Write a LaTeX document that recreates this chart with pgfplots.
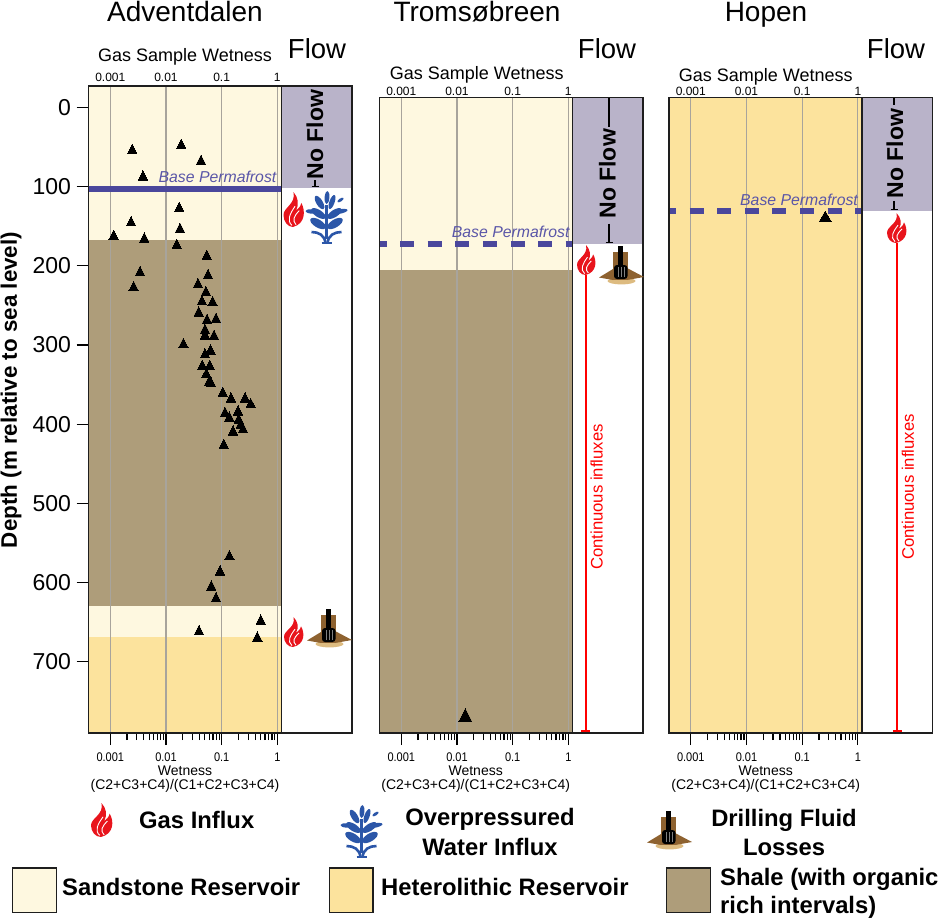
\documentclass[border=0pt]{standalone}
\usepackage{pgfplots}
\pgfplotsset{compat=1.18}
\usepackage{fontspec}
\setmainfont{Liberation Sans}
\definecolor{sand}{HTML}{FEF8E0}
\definecolor{hetero}{HTML}{FCE39D}
\definecolor{shale}{HTML}{AE9D7A}
\definecolor{noflow}{HTML}{B9B3C9}
\definecolor{pfline}{HTML}{4A479C}
\definecolor{pftext}{HTML}{5A56A8}
\definecolor{gridg}{HTML}{A8A49C}
\definecolor{bordercol}{HTML}{1E1E1E}
\definecolor{flamered}{HTML}{E8141C}
\definecolor{waterblue}{HTML}{2B56A8}
\definecolor{rockcol}{HTML}{8E6230}
\definecolor{tancol}{HTML}{DDBB80}
\newcommand\fsz[1]{\fontsize{#1}{#1}\selectfont}
\pgfplotsset{
  wetaxis/.style={scale only axis,width=193pt,clip mode=individual,
    xmin=4.06e-4,xmax=1.188,y dir=reverse,ymax=790,
    axis line style={line width=1.5pt,color=bordercol},
    xtick={0.001,0.01,0.1,1},xticklabels={0.001,0.01,0.1,1},
    minor xtick={0.002,0.003,0.004,0.005,0.006,0.007,0.008,0.009,0.02,0.03,0.04,0.05,0.06,0.07,0.08,0.09,0.2,0.3,0.4,0.5,0.6,0.7,0.8,0.9},
    xtick pos=bottom,ytick pos=left,tick align=outside,
    major tick length=12pt,minor tick length=7pt,
    tick style={line width=1.2pt,color=black},
    x tick label style={font=\fsz{12.5},xscale=0.88,yshift=-4pt},
    axis on top},
  flowaxis/.style={scale only axis,width=70.3pt,xmin=0,xmax=70.3,y dir=reverse,ymax=790,
    xtick=\empty,ytick=\empty,axis line style={line width=1.5pt,color=bordercol},axis on top},
  lithfill/.style={fill=#1,draw=none},
  gridln/.style={color=gridg,line width=1.2pt},
  trimark/.style={only marks,mark=triangle*,mark size=5.4pt,mark options={yscale=1.15,fill=black,draw=black,line width=0pt}},
  blkln/.style={color=black,line width=1.3pt},
  redln/.style={color=red,line width=1.7pt}
}
\newcommand\toplabels[2]{%
\node[font=\fsz{12},anchor=south,inner sep=0pt,yshift=#2] at (axis cs:0.001,#1) {0.001};
\node[font=\fsz{12},anchor=south,inner sep=0pt,yshift=#2] at (axis cs:0.01,#1) {0.01};
\node[font=\fsz{12},anchor=south,inner sep=0pt,yshift=#2] at (axis cs:0.1,#1) {0.1};
\node[font=\fsz{12},anchor=south,inner sep=0pt,yshift=#2] at (axis cs:1,#1) {1};}
\newcommand\flameicon[4]{%
\begin{scope}[shift={(#1,-#2)},xscale=#3/20,yscale=#4/32]
\fill[flamered] (9,0) .. controls (4,0) and (0,5) .. (0,11) .. controls (0,18) and (12,21) .. (9.5,32)
  .. controls (14,27) and (15,21) .. (12,15) .. controls (14,17) and (16,18) .. (17,22)
  .. controls (21,15) and (21,3) .. (9,0) -- cycle;
\draw[white,line width=0.9pt] (8,1.5) .. controls (3,6) and (6,12) .. (11,19);
\draw[white,line width=0.9pt] (12,2) .. controls (8,6) and (10,10) .. (15,15);
\end{scope}}
\newcommand\leaficon[5]{%
\fill[waterblue,rotate around={atan2(#4-#2,#3-#1):({(#1+#3)/2},{(#2+#4)/2})}]
  ({(#1+#3)/2},{(#2+#4)/2}) ellipse ({0.5*veclen(#3-#1,#4-#2)} and #5);}
\newcommand\watericon[2]{%
\begin{scope}[shift={(#1,-#2)}]
\draw[waterblue,line width=2.6pt] (-1,0) .. controls (-2,8) and (-8,11) .. (-15,11);
\draw[waterblue,line width=2.6pt] (1,0) .. controls (2,8) and (8,11) .. (15,11);
\draw[waterblue,line width=2.4pt] (0,4) -- (0,38);
\draw[waterblue,line width=2pt] (-5,0) -- (5,0);
\leaficon{0}{39}{1}{52}{2.4}
\leaficon{-3}{34}{-11}{47}{3.2}
\leaficon{3}{34}{8}{48}{2.6}
\leaficon{11}{41}{17}{45}{1.5}
\leaficon{-9}{31}{-21}{32}{2.2}
\leaficon{6}{30}{21}{33}{2.2}
\leaficon{-1}{25}{-15}{34}{3.6}
\leaficon{1}{25}{15}{34}{3.6}
\leaficon{-1}{15}{-16}{24}{4}
\leaficon{1}{15}{16}{24}{4}
\end{scope}}
\newcommand\drillicon[2]{%
\begin{scope}[shift={(#1,-#2)}]
\fill[tancol] (22.5,4) ellipse (14 and 3.4);
\fill[rockcol] (0,7.5) -- (14,16) -- (14,5) -- cycle;
\fill[rockcol] (45,8) -- (28,17) -- (28,5) -- cycle;
\fill[rockcol] (14,5) rectangle (28.5,33);
\fill[black] (19,18) rectangle (24,39);
\fill[black,rounded corners=3pt] (15,6) rectangle (28.5,20);
\draw[gray,line width=0.3pt] (19,8) -- (19,18) (22,8) -- (22,18) (25,8) -- (25,18);
\end{scope}}
\begin{document}
\begin{tikzpicture}[x=1pt,y=1pt]
\path[use as bounding box] (0,0) rectangle (941,-921);
% ---------- Adventdalen
\begin{semilogxaxis}[wetaxis,at={(88.5pt,-86pt)},anchor=north west,height=647pt,ymin=-26.9,
  ytick={0,100,200,300,400,500,600,700},yticklabels={0,100,200,300,400,500,600,700},
  y tick label style={font=\fsz{23},xshift=-2pt}]
\addplot[lithfill=sand] coordinates {(4.06e-4,-26.9)(1.188,-26.9)(1.188,168)(4.06e-4,168)} -- cycle;
\addplot[lithfill=shale] coordinates {(4.06e-4,168)(1.188,168)(1.188,630)(4.06e-4,630)} -- cycle;
\addplot[lithfill=sand] coordinates {(4.06e-4,630)(1.188,630)(1.188,669)(4.06e-4,669)} -- cycle;
\addplot[lithfill=hetero] coordinates {(4.06e-4,669)(1.188,669)(1.188,790)(4.06e-4,790)} -- cycle;
\addplot[gridln] coordinates {(0.001,-26.9)(0.001,790)};
\addplot[gridln] coordinates {(0.01,-26.9)(0.01,790)};
\addplot[gridln] coordinates {(0.1,-26.9)(0.1,790)};
\addplot[gridln] coordinates {(1,-26.9)(1,790)};
\addplot[color=pfline,line width=6pt] coordinates {(4.06e-4,102.8)(1.188,102.8)};
\addplot[trimark] coordinates {
(0.00248,54.3)(0.0188,48)(0.0426,68.2)(0.00386,88)(0.01733,127.5)(0.00236,145.6)(0.01786,154)
(0.00115,162.9)(0.00408,166.3)(0.0156,174.6)(0.054,188.1)(0.0569,212.5)(0.00342,208.7)(0.0376,223.9)
(0.00263,227.7)(0.0521,233.8)(0.0441,245.6)(0.069,246.8)(0.0387,259.7)(0.0546,268.9)(0.0793,267.7)
(0.0502,281.6)(0.0502,288.8)(0.0729,289.1)(0.0205,299.6)(0.0631,307.8)(0.0502,312.5)(0.0448,327)
(0.0611,327)(0.053,337.5)(0.06,346.8)(0.0644,348.9)(0.1045,361.1)(0.1472,368.3)(0.263,368.3)
(0.3327,375.4)(0.1968,384.7)(0.1148,386.4)(0.1374,392.3)(0.2023,394.8)(0.2198,401.1)(0.2421,406.9)
(0.16,410)(0.1089,426.8)(0.1374,567.3)(0.0935,586.7)(0.0652,605.7)(0.0793,620.3)(0.5035,648.6)
(0.0392,662)(0.4375,670)};
\toplabels{-26.9}{4pt}
\end{semilogxaxis}
\begin{axis}[flowaxis,at={(281.5pt,-86pt)},anchor=north west,height=647pt,ymin=-26.9]
\addplot[fill=noflow,draw=none] coordinates {(0,-26.9)(70.3,-26.9)(70.3,102.3)(0,102.3)} -- cycle;
\addplot[blkln] coordinates {(33.5,92)(33.5,100)};
\addplot[blkln] coordinates {(30,100)(37,100)};
\end{axis}
% ---------- Tromsobreen
\begin{semilogxaxis}[wetaxis,at={(379.5pt,-97.7pt)},anchor=north west,height=635.3pt,ymin=-12.1,ytick=\empty]
\addplot[lithfill=sand] coordinates {(4.06e-4,-12.1)(1.188,-12.1)(1.188,204.8)(4.06e-4,204.8)} -- cycle;
\addplot[lithfill=shale] coordinates {(4.06e-4,204.8)(1.188,204.8)(1.188,790)(4.06e-4,790)} -- cycle;
\addplot[gridln] coordinates {(0.001,-12.1)(0.001,790)};
\addplot[gridln] coordinates {(0.01,-12.1)(0.01,790)};
\addplot[gridln] coordinates {(0.1,-12.1)(0.1,790)};
\addplot[gridln] coordinates {(1,-12.1)(1,790)};
\addplot[color=pfline,line width=6pt,dash pattern=on 14pt off 13.6pt,dash phase=7pt] coordinates {(4.06e-4,172.6)(1.188,172.6)};
\addplot[only marks,mark=triangle*,mark size=7.3pt,mark options={yscale=1.15,fill=black,draw=black,line width=0pt}] coordinates {(0.0141,770)};
\toplabels{-12.1}{2pt}
\end{semilogxaxis}
\begin{axis}[flowaxis,at={(572.5pt,-97.7pt)},anchor=north west,height=635.3pt,ymin=-12.1]
\addplot[fill=noflow,draw=none] coordinates {(0,-12.1)(70.3,-12.1)(70.3,172.6)(0,172.6)} -- cycle;
\addplot[blkln] coordinates {(36.5,-12.1)(36.5,25)};
\addplot[blkln] coordinates {(36.5,147)(36.5,171)};
\addplot[blkln] coordinates {(33,171)(40,171)};
\addplot[redln] coordinates {(13.2,211.7)(13.2,787)};
\addplot[redln] coordinates {(8.7,787)(17.7,787)};
\end{axis}
% ---------- Hopen
\begin{semilogxaxis}[wetaxis,at={(669pt,-97.7pt)},anchor=north west,height=635.3pt,ymin=-12.1,ytick=\empty]
\addplot[lithfill=hetero] coordinates {(4.06e-4,-12.1)(1.188,-12.1)(1.188,790)(4.06e-4,790)} -- cycle;
\addplot[gridln] coordinates {(0.001,-12.1)(0.001,790)};
\addplot[gridln] coordinates {(0.01,-12.1)(0.01,790)};
\addplot[gridln] coordinates {(0.1,-12.1)(0.1,790)};
\addplot[gridln] coordinates {(1,-12.1)(1,790)};
\addplot[color=pfline,line width=6pt,dash pattern=on 14pt off 13.6pt,dash phase=7pt] coordinates {(4.06e-4,130.6)(1.188,130.6)};
\addplot[only marks,mark=triangle*,mark size=7pt,mark options={fill=black,draw=black,line width=0pt}] coordinates {(0.26,140)};
\toplabels{-12.1}{2pt}
\end{semilogxaxis}
\begin{axis}[flowaxis,at={(862pt,-97.7pt)},anchor=north west,height=635.3pt,ymin=-12.1]
\addplot[fill=noflow,draw=none] coordinates {(0,-12.1)(70.3,-12.1)(70.3,130.6)(0,130.6)} -- cycle;
\addplot[blkln] coordinates {(32,-12.1)(32,-3)};
\addplot[blkln] coordinates {(32,118)(32,129)};
\addplot[blkln] coordinates {(28.5,129)(35.5,129)};
\addplot[redln] coordinates {(35.3,171)(35.3,787)};
\addplot[redln] coordinates {(30.8,787)(39.8,787)};
\end{axis}
% ---------- Titles
\node[font=\fsz{28},anchor=base,inner sep=0pt] at (185,-21) {Adventdalen};
\node[font=\fsz{28},anchor=base,inner sep=0pt] at (477,-21) {Tromsøbreen};
\node[font=\fsz{28},anchor=base,inner sep=0pt] at (766,-21) {Hopen};
\node[font=\fsz{27.5},anchor=base,inner sep=0pt] at (317,-58) {Flow};
\node[font=\fsz{27.5},anchor=base,inner sep=0pt] at (607,-58) {Flow};
\node[font=\fsz{27.5},anchor=base,inner sep=0pt] at (896,-58) {Flow};
\node[font=\fsz{18},anchor=base,inner sep=0pt] at (185,-61.7) {Gas Sample Wetness};
\node[font=\fsz{18},anchor=base,inner sep=0pt] at (476.7,-79.3) {Gas Sample Wetness};
\node[font=\fsz{18},anchor=base,inner sep=0pt] at (765.7,-81.3) {Gas Sample Wetness};
\node[font=\bfseries\fsz{22.4},rotate=90] at (11,-390) {Depth (m relative to sea level)};
\foreach \cx in {185,475.7,765.7}{
  \node[font=\fsz{14},anchor=base,inner sep=0pt] at (\cx,-775) {Wetness};
  \node[font=\fsz{14},anchor=base,inner sep=0pt] at (\cx,-789) {(C2+C3+C4)/(C1+C2+C3+C4)};
}
\node[font=\itshape\fsz{15.8},text=pftext,anchor=base,inner sep=0pt] at (217.5,-182.7) {Base Permafrost};
\node[font=\itshape\fsz{15.8},text=pftext,anchor=base,inner sep=0pt] at (510.7,-237.3) {Base Permafrost};
\node[font=\itshape\fsz{15.8},text=pftext,anchor=base,inner sep=0pt] at (799,-205) {Base Permafrost};
\node[font=\bfseries\fsz{23},rotate=90] at (315,-134.7) {No Flow};
\node[font=\bfseries\fsz{23},rotate=90] at (607.5,-173.8) {No Flow};
\node[font=\bfseries\fsz{23},rotate=90] at (895,-153.7) {No Flow};
\node[font=\fsz{16.7},rotate=90,text=red] at (596.7,-497) {Continuous influxes};
\node[font=\fsz{16.7},rotate=90,text=red] at (908,-487) {Continuous influxes};
% ---------- Icons
\flameicon{283.5}{227}{21}{35}
\flameicon{284}{647}{20}{30}
\flameicon{577}{275}{19}{30}
\flameicon{887}{243}{20}{30}
\watericon{326.5}{243}
\drillicon{307}{648}
\drillicon{599}{285}
% ---------- Legend
\flameicon{91}{837}{22}{34}
\node[font=\bfseries\fsz{23.8},anchor=base west,inner sep=0pt] at (139,-828.3) {Gas Influx};
\watericon{361.5}{857}
\node[font=\bfseries\fsz{23.8},anchor=base,inner sep=0pt] at (490,-825) {Overpressured};
\node[font=\bfseries\fsz{23.8},anchor=base,inner sep=0pt] at (490,-855) {Water Influx};
\drillicon{647}{850}
\node[font=\bfseries\fsz{23.8},anchor=base,inner sep=0pt] at (784,-826.7) {Drilling Fluid};
\node[font=\bfseries\fsz{23.8},anchor=base,inner sep=0pt] at (784,-855) {Losses};
\draw[fill=sand,draw=bordercol,line width=1.5pt] (12.5,-868) rectangle (56.5,-912.5);
\node[font=\bfseries\fsz{23.8},anchor=base west,inner sep=0pt] at (62,-895) {Sandstone Reservoir};
\draw[fill=hetero,draw=bordercol,line width=1.5pt] (329.5,-868) rectangle (373,-912.5);
\node[font=\bfseries\fsz{23.8},anchor=base west,inner sep=0pt] at (381,-895) {Heterolithic Reservoir};
\draw[fill=shale,draw=bordercol,line width=1.5pt] (666.5,-868) rectangle (710.5,-912.5);
\node[font=\bfseries\fsz{23.8},anchor=base west,inner sep=0pt] at (720,-885) {Shale (with organic};
\node[font=\bfseries\fsz{23.8},anchor=base west,inner sep=0pt] at (720,-913) {rich intervals)};
\end{tikzpicture}
\end{document}
